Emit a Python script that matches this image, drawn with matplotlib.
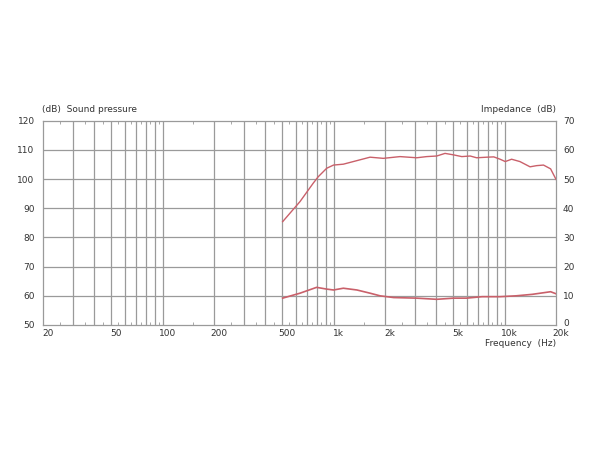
import matplotlib
matplotlib.use("Agg")
import matplotlib.pyplot as plt
import matplotlib.transforms as mtransforms
import numpy as np

# Sound pressure curve (dB)
spl_freq = [504, 637, 761, 814, 912, 1000, 1141, 1306, 1635, 1955, 2448, 3066, 3506,
            4012, 4488, 5024, 5623, 6300, 6870, 7900, 8660, 9420, 10100, 11000, 12300,
            14100, 15400, 16900, 18600, 20000]
spl_db = [85.4, 92.3, 98.6, 100.8, 103.7, 104.8, 105.1, 106.0, 107.5, 107.1, 107.7, 107.3, 107.7,
          107.9, 108.8, 108.3, 107.7, 107.9, 107.3, 107.5, 107.6, 106.8, 106.0, 106.8, 106.0,
          104.2, 104.6, 104.8, 103.5, 99.9]

# Impedance curve (right axis)
imp_freq = [504, 637, 796, 912, 1000, 1141, 1370, 1635, 1870, 2250, 3066, 4012, 5024,
            6000, 7400, 9400, 11700, 14500, 18600, 20000]
imp_val = [9.2, 10.9, 12.9, 12.3, 12.0, 12.6, 12.0, 10.9, 10.0, 9.4, 9.2, 8.8, 9.2,
           9.2, 9.7, 9.7, 10.0, 10.5, 11.4, 10.7]

x_ticks = [20, 50, 100, 200, 500, 1000, 2000, 5000, 10000, 20000]
x_labels = ["20", "50", "100", "200", "500", "1k", "2k", "5k", "10k", "20k"]
left_ticks = [50, 60, 70, 80, 90, 100, 110, 120]
right_ticks = [0, 10, 20, 30, 40, 50, 60, 70]

line_color = "#c9606a"
grid_color = "#9a9a9a"
text_color = "#333333"
fs = 6.5

fig = plt.figure(figsize=(6, 4.5), dpi=100)
ax = fig.add_axes([43/600, 1-325/450, (556-43)/600, (325-120.7)/450])
ax.set_xscale("log")
ax.set_xlim(20, 20000)
ax.set_ylim(50, 120)

# grid lines
grid_x = [f * d for d in (10, 100, 1000) for f in range(1, 10)] + [10000]
grid_x = [g for g in grid_x if 20 < g < 20000]
for g in grid_x:
    ax.axvline(g, color=grid_color, lw=0.9, zorder=1)
for t in left_ticks[1:-1]:
    ax.axhline(t, color=grid_color, lw=0.9, zorder=1)

ax.set_xticks(x_ticks)
ax.set_xticklabels(x_labels)
ax.xaxis.set_minor_locator(matplotlib.ticker.FixedLocator(
    [m * d for d in (10, 100, 1000) for m in (1.5, 2.5, 3.5, 4.5, 5.5, 6.5, 7.5, 8.5, 9.5)]))
ax.xaxis.set_minor_formatter(matplotlib.ticker.NullFormatter())
ax.tick_params(axis="x", which="minor", direction="in", length=2, width=0.6,
               color=grid_color, top=True, bottom=True)
ax.tick_params(axis="x", which="major", length=0, pad=3, labelsize=fs, labelcolor=text_color)
ax.set_yticks(left_ticks)
ax.tick_params(axis="y", length=0, pad=6, labelsize=fs, labelcolor=text_color)
offset = mtransforms.ScaledTranslation(5/100, 0, fig.dpi_scale_trans)
for lab in ax.get_xticklabels():
    lab.set_transform(lab.get_transform() + offset)

for sp in ax.spines.values():
    sp.set_color(grid_color)
    sp.set_linewidth(0.9)

ax.plot(spl_freq, spl_db, color=line_color, lw=1.0, zorder=3)

ax2 = ax.twinx()
ax2.set_ylim(0, 70)
ax2.set_yticks(right_ticks)
ax2.tick_params(axis="y", length=0, pad=5, labelsize=fs, labelcolor=text_color)
for sp in ax2.spines.values():
    sp.set_visible(False)
ax2.plot(imp_freq, imp_val, color=line_color, lw=1.2, zorder=3)
up = mtransforms.ScaledTranslation(0, 3/100, fig.dpi_scale_trans)
rlabs = ax2.get_yticklabels()
rlabs[0].set_transform(rlabs[0].get_transform() + up)

fig.text(42/600, 1-110/450, "(dB)  Sound pressure", fontsize=fs, color=text_color,
         ha="left", va="center")
fig.text(556/600, 1-109/450, "Impedance  (dB)", fontsize=fs, color=text_color,
         ha="right", va="center")
fig.text(556/600, 1-343.5/450, "Frequency  (Hz)", fontsize=fs, color=text_color,
         ha="right", va="center")

fig.savefig("out.png", dpi=100, facecolor="white")
